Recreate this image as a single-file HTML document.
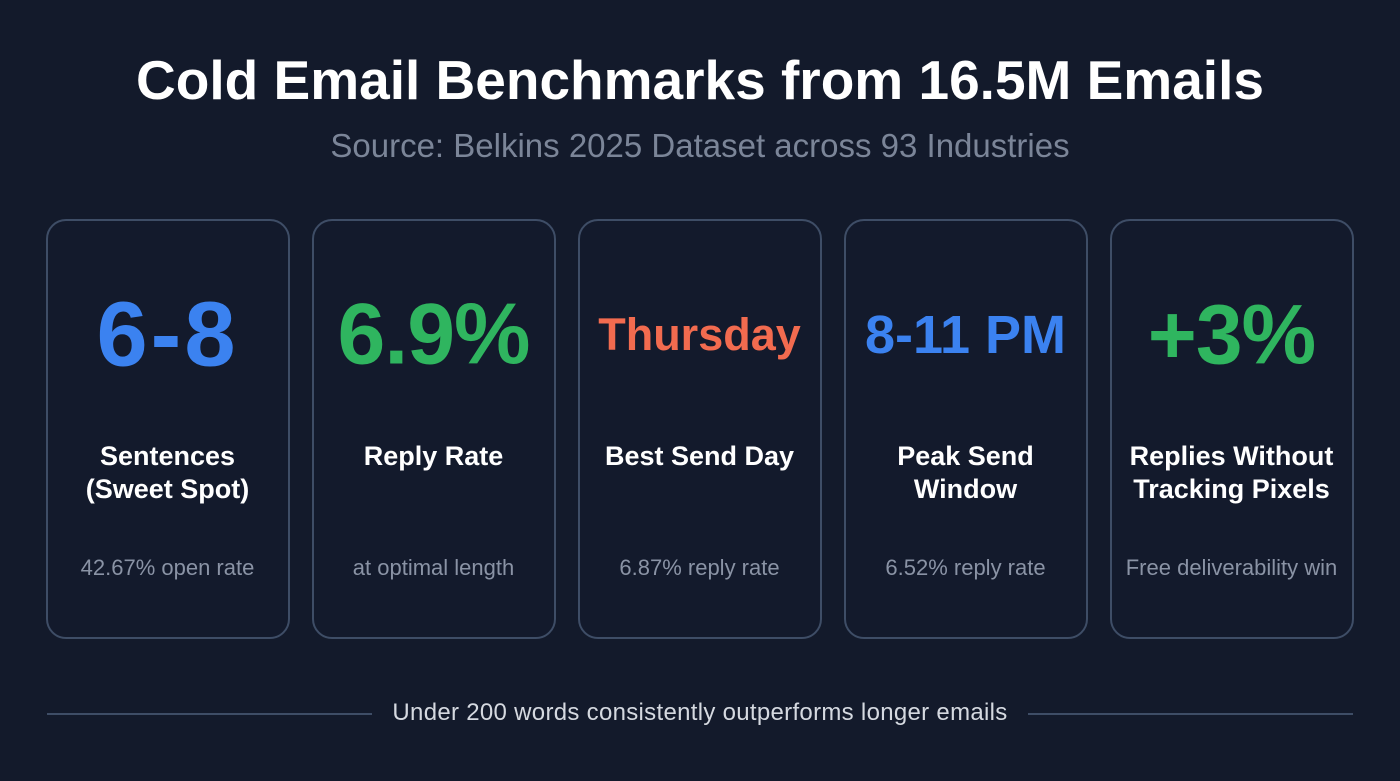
<!DOCTYPE html>
<html><head><meta charset="utf-8"><style>
body{margin:0;width:1400px;height:781px;background:#131a2b;font-family:"Liberation Sans",sans-serif;position:relative;overflow:hidden}
.t{position:absolute;left:0;width:1400px;text-align:center}
.card{position:absolute;top:219px;width:244px;height:420px;border:2px solid #3e4d66;border-radius:20px;background:#131a2c;box-sizing:border-box}
.big{position:absolute;left:0;right:0;top:335px;transform:translateY(-50%);text-align:center;font-weight:bold}
.lab{position:absolute;left:0;right:0;top:440px;text-align:center;color:#fff;font-weight:bold;font-size:27px;line-height:33px}
.sub{position:absolute;left:0;right:0;top:555px;text-align:center;color:#8a93a5;font-size:22px}
.cw{position:absolute;top:0;height:781px}
</style></head><body>
<div class="t" style="top:48px;font-size:55px;font-weight:bold;color:#fff">Cold Email Benchmarks from 16.5M Emails</div>
<div class="t" style="top:127px;font-size:33px;color:#7b8598">Source: Belkins 2025 Dataset across 93 Industries</div>

<div class="card" style="left:46px"></div>
<div class="card" style="left:312px"></div>
<div class="card" style="left:578px"></div>
<div class="card" style="left:844px"></div>
<div class="card" style="left:1110px"></div>

<div class="cw" style="left:47px;width:241px">
<div class="big" style="color:#3b82f0;font-size:92px;letter-spacing:3px">6-8</div>
<div class="lab">Sentences<br>(Sweet Spot)</div>
<div class="sub">42.67% open rate</div></div>
<div class="cw" style="left:313px;width:241px">
<div class="big" style="color:#2fb55f;font-size:86px;letter-spacing:-1px">6.9%</div>
<div class="lab">Reply Rate</div>
<div class="sub">at optimal length</div></div>
<div class="cw" style="left:579px;width:241px">
<div class="big" style="color:#f26b4f;font-size:45px">Thursday</div>
<div class="lab">Best Send Day</div>
<div class="sub">6.87% reply rate</div></div>
<div class="cw" style="left:845px;width:241px">
<div class="big" style="color:#3b82f0;font-size:54px">8-11 PM</div>
<div class="lab">Peak Send<br>Window</div>
<div class="sub">6.52% reply rate</div></div>
<div class="cw" style="left:1111px;width:241px">
<div class="big" style="color:#2fb55f;font-size:84px;letter-spacing:-1px">+3%</div>
<div class="lab">Replies Without<br>Tracking Pixels</div>
<div class="sub">Free deliverability win</div></div>

<div style="position:absolute;left:47px;width:325px;top:713px;height:2px;background:#3e4d66"></div>
<div style="position:absolute;left:1028px;width:325px;top:713px;height:2px;background:#3e4d66"></div>
<div class="t" style="top:699px;font-size:24px;letter-spacing:0.3px;color:#d5d9e0">Under 200 words consistently outperforms longer emails</div>
</body></html>
